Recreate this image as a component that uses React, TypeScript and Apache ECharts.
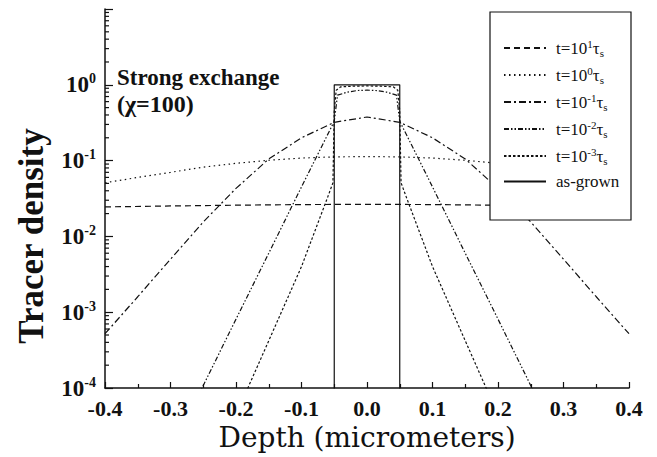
import React, { useEffect, useRef } from 'react';
import * as echarts from 'echarts';

// ---- data ----
const seriesNames = ['t1', 't0', 'tm1', 'tm2', 'tm3', 'asgrown'];

const depthT1 = [-0.4, -0.3, -0.2, -0.1, 0, 0.1, 0.2, 0.3, 0.4];
const densT1 = [0.0245, 0.0252, 0.0258, 0.0263, 0.0265, 0.0263, 0.0258, 0.0252, 0.0245];

const depthT0 = [-0.4, -0.35, -0.3, -0.25, -0.2, -0.15, -0.1, -0.05, 0, 0.05, 0.1, 0.15, 0.2, 0.25, 0.3, 0.35, 0.4];
const densT0 = [0.051, 0.06, 0.07, 0.082, 0.092, 0.101, 0.108, 0.112, 0.113, 0.112, 0.108, 0.101, 0.092, 0.082, 0.07, 0.06, 0.051];

const depthTm1 = [-0.4, -0.35, -0.3, -0.25, -0.2, -0.15, -0.1, -0.05, 0, 0.05, 0.1, 0.15, 0.2, 0.25, 0.3, 0.35, 0.4];
const densTm1 = [5.2e-4, 0.0016, 0.005, 0.0155, 0.043, 0.105, 0.2, 0.32, 0.376, 0.32, 0.2, 0.105, 0.043, 0.0155, 0.005, 0.0016, 5.2e-4];

const depthTm2 = [-0.26, -0.2, -0.15, -0.1, -0.05, -0.045, -0.03, -0.015, 0, 0.015, 0.03, 0.045, 0.05, 0.1, 0.15, 0.2, 0.26];
const densTm2 = [7.2e-5, 8.1e-4, 0.006, 0.045, 0.33, 0.73, 0.8, 0.84, 0.85, 0.84, 0.8, 0.73, 0.33, 0.045, 0.006, 8.1e-4, 7.2e-5];

const depthTm3 = [-0.185, -0.15, -0.1, -0.06, -0.052, -0.05, -0.047, -0.04, -0.02, 0, 0.02, 0.04, 0.047, 0.05, 0.052, 0.06, 0.1, 0.15, 0.185];
const densTm3 = [8.7e-5, 4.2e-4, 0.004, 0.033, 0.051, 0.45, 0.85, 0.94, 0.96, 0.965, 0.96, 0.94, 0.85, 0.45, 0.051, 0.033, 0.004, 4.2e-4, 8.7e-5];

const depthGrown = [-0.05, -0.05, 0.05, 0.05];
const densGrown = [1e-5, 1, 1, 1e-5];

const legendExp = ['1', '0', '-1', '-2', '-3'];
const minorDecades = [-4, -3, -2, -1, 0];
const minorMultipliers = [2, 3, 4, 5, 6, 7, 8, 9];

const zip = (xs: number[], ys: number[]) => xs.map((x, i) => [x, ys[i]]);

const SERIF = "'Liberation Serif', 'Times New Roman', Times, serif";
const WIDE_SERIF = "'DejaVu Serif', serif";

export default function App() {
  const ref = useRef<HTMLDivElement>(null);
  useEffect(() => {
    if (!ref.current) return;
    const chart = echarts.init(ref.current, undefined, { renderer: 'svg' });
    const black = '#111';
    const lineBase = { color: black, width: 1.2 };
    const mk = (name: string, data: number[][], type: any) => ({
      name,
      type: 'line',
      data,
      symbol: 'none',
      showSymbol: false,
      smooth: false,
      lineStyle: { ...lineBase, type },
      itemStyle: { color: black },
      z: 3,
    });
    const minorData: number[][] = [];
    minorDecades.forEach((d) => minorMultipliers.forEach((m) => minorData.push([-0.4, m * Math.pow(10, d)])));

    const legendLabel: Record<string, string> = {
      t1: `{b|t=10}{s|${legendExp[0]}}{b|τ}{u|s}`,
      t0: `{b|t=10}{s|${legendExp[1]}}{b|τ}{u|s}`,
      tm1: `{b|t=10}{s|${legendExp[2]}}{b|τ}{u|s}`,
      tm2: `{b|t=10}{s|${legendExp[3]}}{b|τ}{u|s}`,
      tm3: `{b|t=10}{s|${legendExp[4]}}{b|τ}{u|s}`,
      asgrown: '{b|as-grown}',
    };

    chart.setOption({
      animation: false,
      backgroundColor: '#fff',
      textStyle: { fontFamily: SERIF },
      grid: { left: 105, right: 28, top: 9, bottom: 69, containLabel: false },
      legend: {
        data: seriesNames,
        orient: 'vertical',
        left: 503,
        top: 38,
        padding: 0,
        itemWidth: 42,
        itemHeight: 10,
        itemGap: 7,
        selectedMode: false,
        z: 10,
        itemStyle: { opacity: 0, borderWidth: 0 },
        formatter: (n: string) => legendLabel[n],
        textStyle: {
          fontFamily: SERIF,
          padding: [0, 0, 0, 5],
          rich: {
            b: { fontFamily: SERIF, fontSize: 17, color: black, lineHeight: 20, verticalAlign: 'middle' },
            s: { fontFamily: SERIF, fontSize: 11, color: black, lineHeight: 11, verticalAlign: 'top' },
            u: { fontFamily: SERIF, fontSize: 11, color: black, lineHeight: 11, verticalAlign: 'bottom' },
          },
        },
      },
      xAxis: {
        type: 'value',
        min: -0.4,
        max: 0.4,
        interval: 0.1,
        name: 'Depth (micrometers)',
        nameLocation: 'middle',
        nameGap: 34,
        nameTextStyle: { fontFamily: WIDE_SERIF, fontSize: 28, color: black },
        axisLine: { show: true, onZero: false, lineStyle: { color: black, width: 1.5 } },
        axisTick: { show: true, inside: true, length: 6, lineStyle: { color: black, width: 1.2 } },
        minorTick: { show: true, splitNumber: 2, length: 4, lineStyle: { color: black, width: 1.2 } },
        splitLine: { show: false },
        axisLabel: {
          margin: 9,
          fontFamily: SERIF,
          fontWeight: 'bold',
          fontSize: 22,
          color: black,
          formatter: (v: number) => (Math.abs(v) < 1e-9 ? 0 : v).toFixed(1),
        },
      },
      yAxis: {
        type: 'log',
        logBase: 10,
        min: 1e-4,
        max: 10,
        axisLine: { show: true, onZero: false, lineStyle: { color: black, width: 1.5 } },
        axisTick: { show: true, inside: true, length: 8, lineStyle: { color: black, width: 1.2 } },
        splitLine: { show: false },
        axisLabel: {
          margin: 9,
          color: black,
          fontFamily: SERIF,
          formatter: (v: number) => {
            const e = Math.round(Math.log10(v));
            if (e === 1) return '';
            return `{b|10}{s|${e}}`;
          },
          rich: {
            b: { fontFamily: SERIF, fontWeight: 'bold', fontSize: 23, color: black, lineHeight: 26, verticalAlign: 'middle' },
            s: { fontFamily: SERIF, fontWeight: 'bold', fontSize: 14, color: black, lineHeight: 14, verticalAlign: 'top' },
          },
        },
      },
      graphic: [
        {
          type: 'rect',
          z: 8,
          shape: { x: 490, y: 12, width: 141, height: 208 },
          style: { fill: '#fff', stroke: black, lineWidth: 1.2 },
        },
        {
          type: 'text',
          x: 31,
          y: 236,
          rotation: Math.PI / 2,
          style: {
            text: 'Tracer density',
            fontFamily: SERIF,
            fontWeight: 'bold',
            fontSize: 35,
            fill: black,
            align: 'center',
            verticalAlign: 'middle',
          },
        },
        {
          type: 'text',
          x: 117,
          y: 77,
          style: { text: 'Strong exchange', fontFamily: SERIF, fontWeight: 'bold', fontSize: 23, fill: black, align: 'left', verticalAlign: 'middle' },
        },
        {
          type: 'text',
          x: 117,
          y: 104,
          style: { text: '(χ=100)', fontFamily: SERIF, fontWeight: 'bold', fontSize: 24, fill: black, align: 'left', verticalAlign: 'middle' },
        },
      ],
      series: [
        mk('t1', zip(depthT1, densT1), [6, 4]),
        mk('t0', zip(depthT0, densT0), [1.5, 3.5]),
        mk('tm1', zip(depthTm1, densTm1), [7, 3, 2, 3]),
        mk('tm2', zip(depthTm2, densTm2), [5, 2, 1.5, 2, 1.5, 2]),
        mk('tm3', zip(depthTm3, densTm3), [2.5, 2]),
        mk('asgrown', zip(depthGrown, densGrown), 'solid'),
        {
          name: 'minorTicks',
          type: 'custom',
          data: minorData,
          silent: true,
          z: 4,
          renderItem: (params: any, api: any) => {
            const p = api.coord([api.value(0), api.value(1)]);
            return {
              type: 'line',
              shape: { x1: p[0], y1: p[1], x2: p[0] + 4, y2: p[1] },
              style: { stroke: black, lineWidth: 1.2 },
            };
          },
        },
      ],
    });
    return () => chart.dispose();
  }, []);
  return <div ref={ref} style={{ position: 'absolute', left: 0, top: 0, width: 657, height: 457 }} />;
}
